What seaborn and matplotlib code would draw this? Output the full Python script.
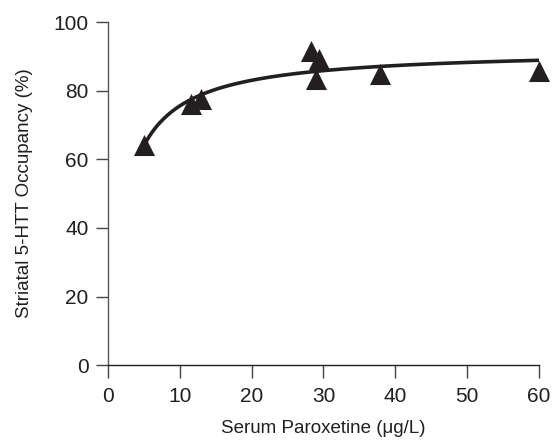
import numpy as np
import pandas as pd
import matplotlib
matplotlib.use('Agg')
import matplotlib.pyplot as plt
import seaborn as sns

# values
serum = [5.0, 11.5, 13.0, 28.2, 29.4, 28.9, 37.9, 60.0]
occupancy = [64.3, 76.2, 77.5, 91.5, 89.3, 83.5, 84.9, 85.8]
x_ticks = [0, 10, 20, 30, 40, 50, 60]
y_ticks = [0, 20, 40, 60, 80, 100]

df = pd.DataFrame({'serum': serum, 'occupancy': occupancy})

# Emax fit (occupancy = Emax * C / (EC50 + C)) from the points, by grid search
c = np.array(serum)
y = np.array(occupancy)
best = None
for ec50 in np.linspace(0.1, 20, 4000):
    f = c / (ec50 + c)
    emax = np.sum(f * y) / np.sum(f * f)
    sse = np.sum((y - emax * f) ** 2)
    if best is None or sse < best[0]:
        best = (sse, ec50, emax)
_, ec50, emax = best
xs = np.linspace(c.min(), c.max(), 300)
fit = pd.DataFrame({'serum': xs, 'occupancy': emax * xs / (ec50 + xs)})

sns.set_style('ticks')
plt.rcParams['font.family'] = ['Liberation Sans', 'DejaVu Sans']
ink = '#231f20'

fig = plt.figure(figsize=(5.52, 4.4), dpi=100)
ax = fig.add_axes([0.196, 0.17, 0.78, 0.78])

sns.lineplot(data=fit, x='serum', y='occupancy', color=ink, linewidth=2.6, ax=ax)
sns.scatterplot(data=df, x='serum', y='occupancy', marker='^', s=230, color=ink,
                edgecolor=ink, linewidth=0, ax=ax, clip_on=False, zorder=3)

ax.set_xlim(0, 60)
ax.set_ylim(0, 100)
ax.set_xticks(x_ticks)
ax.set_yticks(y_ticks)
ax.tick_params(axis='both', labelsize=15, colors='#444444', labelcolor=ink,
               length=9, width=1)
ax.tick_params(axis='x', pad=7)
ax.tick_params(axis='y', pad=5)
for side in ['top', 'right']:
    ax.spines[side].set_visible(False)
ax.spines['left'].set_color('#555555')
ax.spines['bottom'].set_color(ink)
ax.spines['left'].set_linewidth(1)
ax.spines['bottom'].set_linewidth(1)

ax.set_xlabel('Serum Paroxetine (\u03bcg/L)', fontsize=13.5, color=ink, labelpad=10)
ax.set_ylabel('Striatal 5-HTT Occupancy (%)', fontsize=13.5, color=ink, labelpad=15)

fig.savefig('out.png', dpi=100)
